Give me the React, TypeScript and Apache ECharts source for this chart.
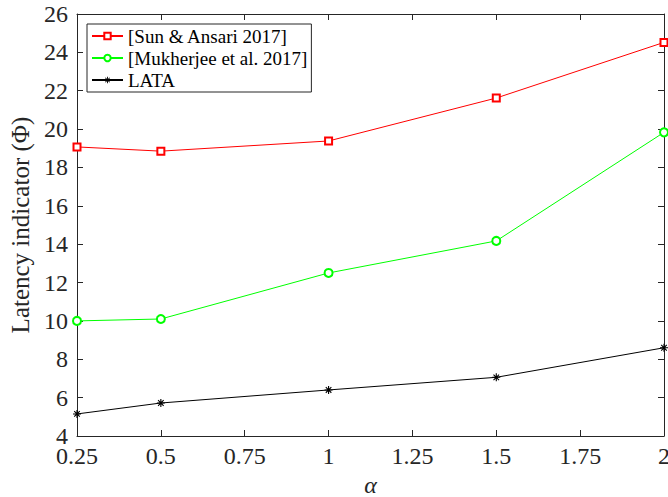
import React, { useEffect, useRef } from "react";
import * as echarts from "echarts";

const alphaValues = [0.25, 0.5, 1, 1.5, 2];
const sunAnsari = [19.07, 18.85, 19.38, 21.62, 24.52];
const mukherjee = [10.0, 10.1, 12.5, 14.17, 19.83];
const lata = [5.15, 5.72, 6.4, 7.06, 8.6];
const seriesNames = ["[Sun & Ansari 2017]", "[Mukherjee et al. 2017]", "LATA"];
const xLabel = "\u03b1";
const yLabel = "Latency indicator (\u03a6)";

const FONT = '"Liberation Serif", "Times New Roman", serif';
const AXIS_COLOR = "#262626";

const asterisk =
  "path://M-5,-0.7L5,-0.7L5,0.7L-5,0.7Z M-0.7,-5L0.7,-5L0.7,5L-0.7,5Z M-3.96,-3.0L-3.0,-3.96L3.96,3.0L3.0,3.96Z M3.0,-3.96L3.96,-3.0L-3.0,3.96L-3.96,3.0Z";

function pairs(ys: number[]) {
  return alphaValues.map((x, i) => [x, ys[i]]);
}

if (typeof document !== "undefined") {
  document.body.style.margin = "0";
  document.body.style.overflow = "hidden";
}

export default function App() {
  const ref = useRef<HTMLDivElement>(null);
  useEffect(() => {
    if (!ref.current) return;
    const chart = echarts.init(ref.current, undefined, { renderer: "svg" });
    const axisCommon = {
      axisLine: { show: true, onZero: false, lineStyle: { color: AXIS_COLOR, width: 1 } },
      axisTick: { show: true, inside: true, length: 6, lineStyle: { color: AXIS_COLOR, width: 1 } },
      splitLine: { show: false },
    };
    chart.setOption({
      animation: false,
      backgroundColor: "#ffffff",
      textStyle: { fontFamily: FONT },
      grid: {
        left: 77,
        right: 4,
        top: 14,
        bottom: 61,
        containLabel: false,
        outerBoundsMode: "none",
      },
      legend: {
        orient: "vertical",
        left: 87,
        top: 24,
        align: "left",
        padding: [1, 4, 1, 4],
        itemWidth: 31,
        itemHeight: 8,
        itemGap: 0,
        borderColor: AXIS_COLOR,
        borderWidth: 1,
        backgroundColor: "#ffffff",
        textStyle: { fontFamily: FONT, fontSize: 19, lineHeight: 22, color: "#000000" },
        data: seriesNames,
      },
      xAxis: [
        {
          type: "value",
          min: 0.25,
          max: 2,
          interval: 0.25,
          ...axisCommon,
          axisLabel: {
            fontFamily: FONT,
            fontSize: 24,
            color: AXIS_COLOR,
            margin: 8,
            hideOverlap: false,
            formatter: (v: number) => String(v),
          },
          name: xLabel,
          nameLocation: "middle",
          nameGap: 37,
          nameTextStyle: { fontFamily: FONT, fontSize: 24, fontStyle: "italic", color: AXIS_COLOR },
        },
        {
          type: "value",
          position: "top",
          min: 0.25,
          max: 2,
          interval: 0.25,
          ...axisCommon,
          axisLabel: { show: false },
        },
      ],
      yAxis: [
        {
          type: "value",
          min: 4,
          max: 26,
          interval: 2,
          ...axisCommon,
          axisLabel: { fontFamily: FONT, fontSize: 24, color: AXIS_COLOR, margin: 9 },
          name: yLabel,
          nameLocation: "middle",
          nameGap: 40,
          nameTextStyle: { fontFamily: FONT, fontSize: 25, color: AXIS_COLOR },
        },
        {
          type: "value",
          position: "right",
          min: 4,
          max: 26,
          interval: 2,
          ...axisCommon,
          axisLabel: { show: false },
        },
      ],
      series: [
        {
          name: seriesNames[0],
          type: "line",
          data: pairs(sunAnsari),
          clip: false,
          symbol: "emptyRect",
          symbolSize: 7,
          lineStyle: { color: "#ff0000", width: 1 },
          itemStyle: { color: "#ff0000", borderColor: "#ff0000", borderWidth: 1 },
        },
        {
          name: seriesNames[1],
          type: "line",
          data: pairs(mukherjee),
          clip: false,
          symbol: "emptyCircle",
          symbolSize: 8,
          lineStyle: { color: "#00ff00", width: 1 },
          itemStyle: { color: "#00ff00", borderColor: "#00ff00", borderWidth: 1 },
        },
        {
          name: seriesNames[2],
          type: "line",
          data: pairs(lata),
          clip: false,
          symbol: asterisk,
          symbolSize: 8,
          lineStyle: { color: "#000000", width: 1 },
          itemStyle: { color: "#000000", borderWidth: 0 },
        },
      ],
    });
    return () => chart.dispose();
  }, []);
  return <div ref={ref} style={{ width: 668, height: 497, background: "#fff" }} />;
}
